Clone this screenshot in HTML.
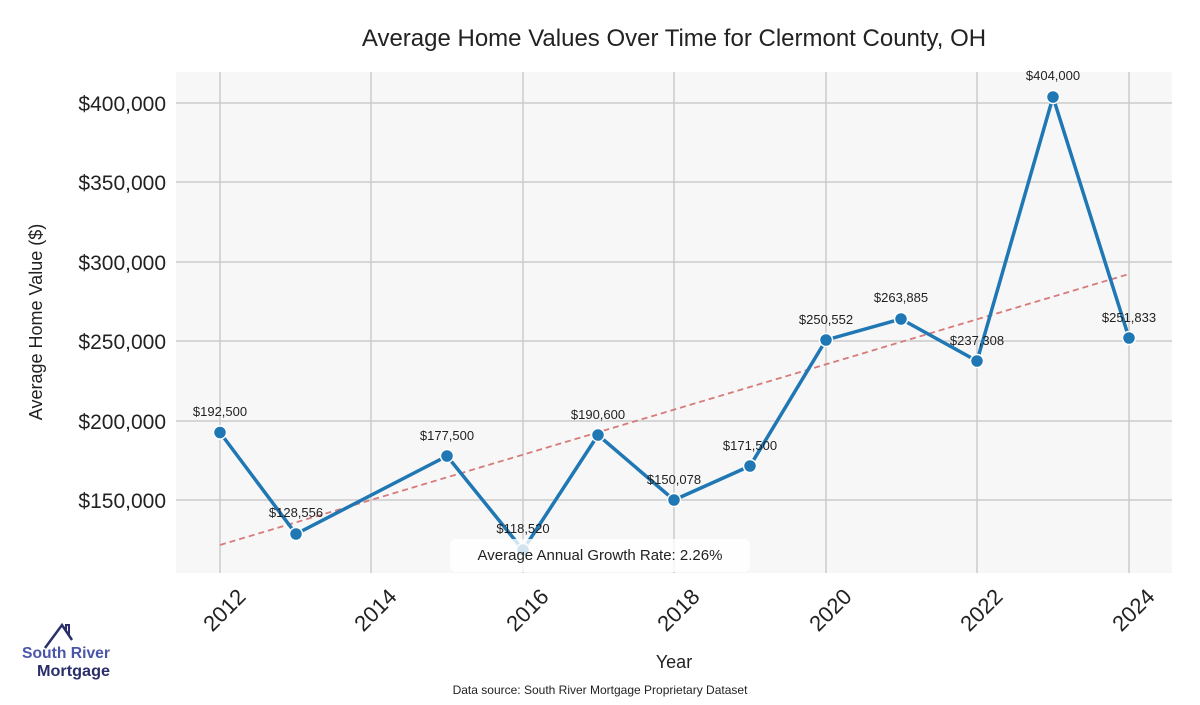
<!DOCTYPE html>
<html><head><meta charset="utf-8"><style>
html,body{margin:0;padding:0;background:#fff;}
svg text{font-family:"Liberation Sans",sans-serif;}
</style></head><body>
<svg width="1200" height="700" viewBox="0 0 1200 700" xmlns="http://www.w3.org/2000/svg">
<rect x="176" y="72" width="996" height="501" fill="#f7f7f7"/>
<g stroke="#cccccc" stroke-width="1.5">
<line x1="220" y1="72" x2="220" y2="573"/><line x1="371" y1="72" x2="371" y2="573"/>
<line x1="523" y1="72" x2="523" y2="573"/><line x1="674" y1="72" x2="674" y2="573"/>
<line x1="826" y1="72" x2="826" y2="573"/><line x1="977" y1="72" x2="977" y2="573"/>
<line x1="1129" y1="72" x2="1129" y2="573"/>
<line x1="176" y1="103" x2="1172" y2="103"/><line x1="176" y1="182" x2="1172" y2="182"/>
<line x1="176" y1="262" x2="1172" y2="262"/><line x1="176" y1="341" x2="1172" y2="341"/>
<line x1="176" y1="421" x2="1172" y2="421"/><line x1="176" y1="500" x2="1172" y2="500"/>
</g>
<line x1="220" y1="545" x2="1129" y2="274" stroke="#d77a7a" stroke-width="1.8" stroke-dasharray="6,4"/>
<polyline fill="none" stroke="#1f77b4" stroke-width="3.5" stroke-linejoin="round" points="220,432.5 296,534 447,456 523,550 598,435 674,500 750,466 826,340 901,319 977,361 1053,97 1129,338"/>
<g fill="#1f77b4" stroke="#fff" stroke-width="1.5">
<circle cx="220" cy="432.5" r="6.5"/><circle cx="296" cy="534" r="6.5"/><circle cx="447" cy="456" r="6.5"/>
<circle cx="523" cy="550" r="6.5"/><circle cx="598" cy="435" r="6.5"/><circle cx="674" cy="500" r="6.5"/>
<circle cx="750" cy="466" r="6.5"/><circle cx="826" cy="340" r="6.5"/><circle cx="901" cy="319" r="6.5"/>
<circle cx="977" cy="361" r="6.5"/><circle cx="1053" cy="97" r="6.5"/><circle cx="1129" cy="338" r="6.5"/>
</g>
<g font-size="13" fill="#222" text-anchor="middle">
<text x="220" y="416">$192,500</text><text x="296" y="517">$128,556</text><text x="447" y="440">$177,500</text>
<text x="523" y="533">$118,520</text><text x="598" y="419">$190,600</text><text x="674" y="484">$150,078</text>
<text x="750" y="450">$171,500</text><text x="826" y="324">$250,552</text><text x="901" y="302">$263,885</text>
<text x="977" y="345">$237,308</text><text x="1053" y="80">$404,000</text><text x="1129" y="322">$251,833</text>
</g>
<rect x="450" y="539" width="300" height="33" rx="6" fill="#fff" fill-opacity="0.8"/>
<text x="600" y="560" font-size="15" fill="#222" text-anchor="middle">Average Annual Growth Rate: 2.26%</text>
<g font-size="21" fill="#222" text-anchor="end">
<text x="166" y="111">$400,000</text><text x="166" y="190">$350,000</text><text x="166" y="270">$300,000</text>
<text x="166" y="349">$250,000</text><text x="166" y="429">$200,000</text><text x="166" y="508">$150,000</text>
</g>
<g font-size="22" fill="#222" text-anchor="end">
<text transform="translate(247,598) rotate(-45)">2012</text><text transform="translate(398,598) rotate(-45)">2014</text>
<text transform="translate(550,598) rotate(-45)">2016</text><text transform="translate(701,598) rotate(-45)">2018</text>
<text transform="translate(853,598) rotate(-45)">2020</text><text transform="translate(1004,598) rotate(-45)">2022</text>
<text transform="translate(1156,598) rotate(-45)">2024</text>
</g>
<text x="674" y="668" font-size="18" fill="#222" text-anchor="middle">Year</text>
<text transform="translate(42,322) rotate(-90)" font-size="18" fill="#222" text-anchor="middle">Average Home Value ($)</text>
<text x="674" y="46" font-size="24" fill="#222" text-anchor="middle">Average Home Values Over Time for Clermont County, OH</text>
<text x="600" y="694" font-size="12" fill="#222" text-anchor="middle">Data source: South River Mortgage Proprietary Dataset</text>
<polyline points="45,648 62,625 72,640" fill="none" stroke="#2a2f6a" stroke-width="2.5"/>
<polyline points="66,632 66,625 69,625 69,636" fill="none" stroke="#2a2f6a" stroke-width="2"/>
<text x="110" y="658" font-size="16" font-weight="bold" fill="#4a56a8" text-anchor="end" textLength="88" lengthAdjust="spacingAndGlyphs">South River</text>
<text x="110" y="676" font-size="16" font-weight="bold" fill="#2a2f6a" text-anchor="end" textLength="73" lengthAdjust="spacingAndGlyphs">Mortgage</text>
</svg>
</body></html>
